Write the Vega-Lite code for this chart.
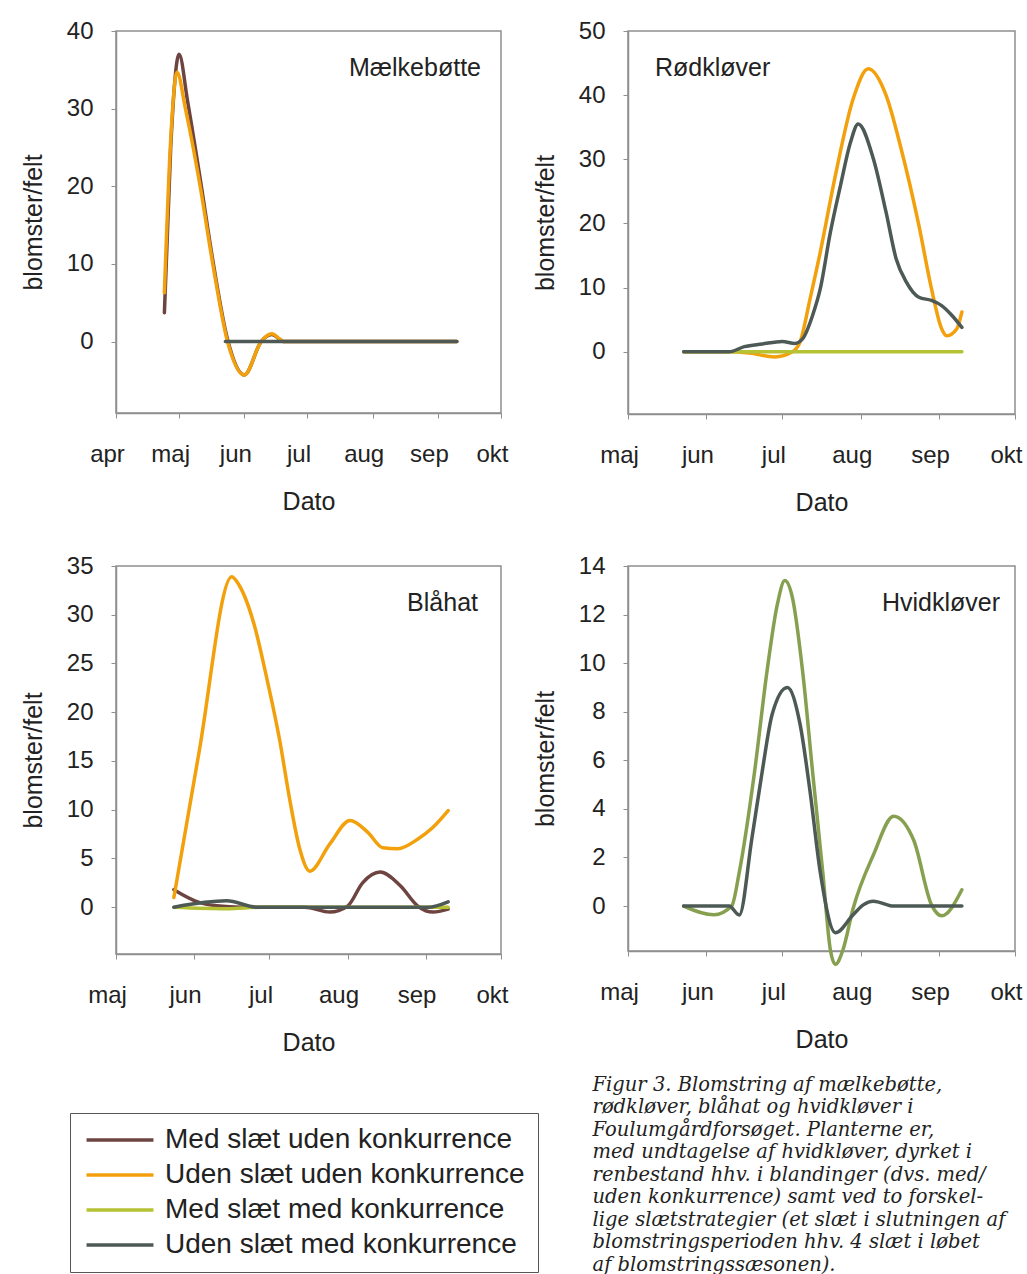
{
  "$schema": "https://vega.github.io/schema/vega-lite/v6.json",
  "background": "white",
  "padding": {"left": 20, "top": 18, "right": 5, "bottom": 5},
  "config": {
    "font": "Liberation Sans",
    "view": {"stroke": "#8f8f8f", "strokeWidth": 1.5},
    "axis": {"grid": false, "labelFontSize": 24, "titleFontSize": 25, "titleFontWeight": "normal", "labelColor": "#222", "titleColor": "#222", "domainColor": "#8f8f8f", "domainWidth": 1.5, "tickColor": "#8f8f8f", "tickSize": 5, "labelFont": "Liberation Sans", "titleFont": "Liberation Sans"},
    "axisX": {"labelPadding": 24, "titlePadding": 23, "labelFlush": false, "labelOverlap": false, "labelOffset": -9},
    "axisY": {"labelPadding": 18, "titlePadding": 20},
    "title": {"fontSize": 25, "fontWeight": "normal", "font": "Liberation Sans", "color": "#222", "orient": "top", "offset": -62, "baseline": "bottom", "frame": "group"},
    "line": {"interpolate": "monotone", "strokeWidth": 3.5, "clip": true, "strokeCap": "round"}
  },
  "datasets": {
    "blomster": [
      {"panel": "Mælkebøtte", "serie": "Med slæt uden konkurrence", "dato": "2009-04-24", "v": 3.7},
      {"panel": "Mælkebøtte", "serie": "Med slæt uden konkurrence", "dato": "2009-04-27", "v": 25},
      {"panel": "Mælkebøtte", "serie": "Med slæt uden konkurrence", "dato": "2009-05-01", "v": 37},
      {"panel": "Mælkebøtte", "serie": "Med slæt uden konkurrence", "dato": "2009-05-05", "v": 31},
      {"panel": "Mælkebøtte", "serie": "Med slæt uden konkurrence", "dato": "2009-05-11", "v": 21},
      {"panel": "Mælkebøtte", "serie": "Med slæt uden konkurrence", "dato": "2009-05-17", "v": 10.5},
      {"panel": "Mælkebøtte", "serie": "Med slæt uden konkurrence", "dato": "2009-05-24", "v": 0.3},
      {"panel": "Mælkebøtte", "serie": "Med slæt uden konkurrence", "dato": "2009-06-01", "v": -4.3},
      {"panel": "Mælkebøtte", "serie": "Med slæt uden konkurrence", "dato": "2009-06-09", "v": 0},
      {"panel": "Mælkebøtte", "serie": "Med slæt uden konkurrence", "dato": "2009-06-14", "v": 0.9},
      {"panel": "Mælkebøtte", "serie": "Med slæt uden konkurrence", "dato": "2009-06-20", "v": 0},
      {"panel": "Mælkebøtte", "serie": "Med slæt uden konkurrence", "dato": "2009-09-10", "v": 0},
      {"panel": "Mælkebøtte", "serie": "Uden slæt uden konkurrence", "dato": "2009-04-24", "v": 6.3},
      {"panel": "Mælkebøtte", "serie": "Uden slæt uden konkurrence", "dato": "2009-04-27", "v": 26},
      {"panel": "Mælkebøtte", "serie": "Uden slæt uden konkurrence", "dato": "2009-04-30", "v": 34.7},
      {"panel": "Mælkebøtte", "serie": "Uden slæt uden konkurrence", "dato": "2009-05-04", "v": 30},
      {"panel": "Mælkebøtte", "serie": "Uden slæt uden konkurrence", "dato": "2009-05-11", "v": 20},
      {"panel": "Mælkebøtte", "serie": "Uden slæt uden konkurrence", "dato": "2009-05-17", "v": 10},
      {"panel": "Mælkebøtte", "serie": "Uden slæt uden konkurrence", "dato": "2009-05-24", "v": 0},
      {"panel": "Mælkebøtte", "serie": "Uden slæt uden konkurrence", "dato": "2009-06-01", "v": -4.3},
      {"panel": "Mælkebøtte", "serie": "Uden slæt uden konkurrence", "dato": "2009-06-09", "v": 0},
      {"panel": "Mælkebøtte", "serie": "Uden slæt uden konkurrence", "dato": "2009-06-14", "v": 1.0},
      {"panel": "Mælkebøtte", "serie": "Uden slæt uden konkurrence", "dato": "2009-06-20", "v": 0},
      {"panel": "Mælkebøtte", "serie": "Uden slæt uden konkurrence", "dato": "2009-09-10", "v": 0},
      {"panel": "Mælkebøtte", "serie": "Uden slæt med konkurrence", "dato": "2009-05-23", "v": 0},
      {"panel": "Mælkebøtte", "serie": "Uden slæt med konkurrence", "dato": "2009-09-10", "v": 0},

      {"panel": "Rødkløver", "serie": "Uden slæt uden konkurrence", "dato": "2009-05-23", "v": 0},
      {"panel": "Rødkløver", "serie": "Uden slæt uden konkurrence", "dato": "2009-06-10", "v": 0},
      {"panel": "Rødkløver", "serie": "Uden slæt uden konkurrence", "dato": "2009-06-18", "v": -0.2},
      {"panel": "Rødkløver", "serie": "Uden slæt uden konkurrence", "dato": "2009-06-28", "v": -0.8},
      {"panel": "Rødkløver", "serie": "Uden slæt uden konkurrence", "dato": "2009-07-05", "v": 0},
      {"panel": "Rødkløver", "serie": "Uden slæt uden konkurrence", "dato": "2009-07-08", "v": 1.5},
      {"panel": "Rødkløver", "serie": "Uden slæt uden konkurrence", "dato": "2009-07-12", "v": 8.3},
      {"panel": "Rødkløver", "serie": "Uden slæt uden konkurrence", "dato": "2009-07-16", "v": 15.5},
      {"panel": "Rødkløver", "serie": "Uden slæt uden konkurrence", "dato": "2009-07-22", "v": 27.5},
      {"panel": "Rødkløver", "serie": "Uden slæt uden konkurrence", "dato": "2009-07-29", "v": 39.4},
      {"panel": "Rødkløver", "serie": "Uden slæt uden konkurrence", "dato": "2009-08-04", "v": 44.1},
      {"panel": "Rødkløver", "serie": "Uden slæt uden konkurrence", "dato": "2009-08-11", "v": 40.0},
      {"panel": "Rødkløver", "serie": "Uden slæt uden konkurrence", "dato": "2009-08-17", "v": 31.6},
      {"panel": "Rødkløver", "serie": "Uden slæt uden konkurrence", "dato": "2009-08-24", "v": 19.7},
      {"panel": "Rødkløver", "serie": "Uden slæt uden konkurrence", "dato": "2009-08-29", "v": 9.8},
      {"panel": "Rødkløver", "serie": "Uden slæt uden konkurrence", "dato": "2009-09-02", "v": 3.6},
      {"panel": "Rødkløver", "serie": "Uden slæt uden konkurrence", "dato": "2009-09-04", "v": 2.5},
      {"panel": "Rødkløver", "serie": "Uden slæt uden konkurrence", "dato": "2009-09-08", "v": 3.6},
      {"panel": "Rødkløver", "serie": "Uden slæt uden konkurrence", "dato": "2009-09-10", "v": 6.2},
      {"panel": "Rødkløver", "serie": "Med slæt med konkurrence", "dato": "2009-05-23", "v": 0},
      {"panel": "Rødkløver", "serie": "Med slæt med konkurrence", "dato": "2009-09-10", "v": 0},
      {"panel": "Rødkløver", "serie": "Uden slæt med konkurrence", "dato": "2009-05-23", "v": 0},
      {"panel": "Rødkløver", "serie": "Uden slæt med konkurrence", "dato": "2009-06-10", "v": 0},
      {"panel": "Rødkløver", "serie": "Uden slæt med konkurrence", "dato": "2009-06-16", "v": 0.8},
      {"panel": "Rødkløver", "serie": "Uden slæt med konkurrence", "dato": "2009-06-23", "v": 1.2},
      {"panel": "Rødkløver", "serie": "Uden slæt med konkurrence", "dato": "2009-07-01", "v": 1.6},
      {"panel": "Rødkløver", "serie": "Uden slæt med konkurrence", "dato": "2009-07-06", "v": 1.3},
      {"panel": "Rødkløver", "serie": "Uden slæt med konkurrence", "dato": "2009-07-09", "v": 2.0},
      {"panel": "Rødkløver", "serie": "Uden slæt med konkurrence", "dato": "2009-07-13", "v": 5.7},
      {"panel": "Rødkløver", "serie": "Uden slæt med konkurrence", "dato": "2009-07-16", "v": 9.8},
      {"panel": "Rødkløver", "serie": "Uden slæt med konkurrence", "dato": "2009-07-20", "v": 18.6},
      {"panel": "Rødkløver", "serie": "Uden slæt med konkurrence", "dato": "2009-07-24", "v": 25.9},
      {"panel": "Rødkløver", "serie": "Uden slæt med konkurrence", "dato": "2009-07-28", "v": 32.7},
      {"panel": "Rødkløver", "serie": "Uden slæt med konkurrence", "dato": "2009-07-31", "v": 35.5},
      {"panel": "Rødkløver", "serie": "Uden slæt med konkurrence", "dato": "2009-08-06", "v": 30.1},
      {"panel": "Rødkløver", "serie": "Uden slæt med konkurrence", "dato": "2009-08-11", "v": 21.8},
      {"panel": "Rødkløver", "serie": "Uden slæt med konkurrence", "dato": "2009-08-15", "v": 14.5},
      {"panel": "Rødkløver", "serie": "Uden slæt med konkurrence", "dato": "2009-08-19", "v": 10.9},
      {"panel": "Rødkløver", "serie": "Uden slæt med konkurrence", "dato": "2009-08-24", "v": 8.5},
      {"panel": "Rødkløver", "serie": "Uden slæt med konkurrence", "dato": "2009-08-29", "v": 8.0},
      {"panel": "Rødkløver", "serie": "Uden slæt med konkurrence", "dato": "2009-09-02", "v": 7.2},
      {"panel": "Rødkløver", "serie": "Uden slæt med konkurrence", "dato": "2009-09-06", "v": 5.7},
      {"panel": "Rødkløver", "serie": "Uden slæt med konkurrence", "dato": "2009-09-10", "v": 3.8},

      {"panel": "Blåhat", "serie": "Med slæt uden konkurrence", "dato": "2009-05-24", "v": 1.8},
      {"panel": "Blåhat", "serie": "Med slæt uden konkurrence", "dato": "2009-06-03", "v": 0.5},
      {"panel": "Blåhat", "serie": "Med slæt uden konkurrence", "dato": "2009-06-10", "v": 0.15},
      {"panel": "Blåhat", "serie": "Med slæt uden konkurrence", "dato": "2009-06-20", "v": 0},
      {"panel": "Blåhat", "serie": "Med slæt uden konkurrence", "dato": "2009-07-15", "v": 0},
      {"panel": "Blåhat", "serie": "Med slæt uden konkurrence", "dato": "2009-07-25", "v": -0.5},
      {"panel": "Blåhat", "serie": "Med slæt uden konkurrence", "dato": "2009-08-01", "v": 0.1},
      {"panel": "Blåhat", "serie": "Med slæt uden konkurrence", "dato": "2009-08-07", "v": 2.5},
      {"panel": "Blåhat", "serie": "Med slæt uden konkurrence", "dato": "2009-08-14", "v": 3.6},
      {"panel": "Blåhat", "serie": "Med slæt uden konkurrence", "dato": "2009-08-22", "v": 2.2},
      {"panel": "Blåhat", "serie": "Med slæt uden konkurrence", "dato": "2009-08-29", "v": 0.1},
      {"panel": "Blåhat", "serie": "Med slæt uden konkurrence", "dato": "2009-09-04", "v": -0.5},
      {"panel": "Blåhat", "serie": "Med slæt uden konkurrence", "dato": "2009-09-10", "v": -0.2},
      {"panel": "Blåhat", "serie": "Uden slæt uden konkurrence", "dato": "2009-05-24", "v": 1.0},
      {"panel": "Blåhat", "serie": "Uden slæt uden konkurrence", "dato": "2009-06-03", "v": 15.9},
      {"panel": "Blåhat", "serie": "Uden slæt uden konkurrence", "dato": "2009-06-16", "v": 33.9},
      {"panel": "Blåhat", "serie": "Uden slæt uden konkurrence", "dato": "2009-06-19", "v": 33.0},
      {"panel": "Blåhat", "serie": "Uden slæt uden konkurrence", "dato": "2009-06-25", "v": 28.9},
      {"panel": "Blåhat", "serie": "Uden slæt uden konkurrence", "dato": "2009-06-30", "v": 23.4},
      {"panel": "Blåhat", "serie": "Uden slæt uden konkurrence", "dato": "2009-07-05", "v": 17.2},
      {"panel": "Blåhat", "serie": "Uden slæt uden konkurrence", "dato": "2009-07-09", "v": 11.1},
      {"panel": "Blåhat", "serie": "Uden slæt uden konkurrence", "dato": "2009-07-13", "v": 6.0},
      {"panel": "Blåhat", "serie": "Uden slæt uden konkurrence", "dato": "2009-07-17", "v": 3.7},
      {"panel": "Blåhat", "serie": "Uden slæt uden konkurrence", "dato": "2009-07-25", "v": 6.5},
      {"panel": "Blåhat", "serie": "Uden slæt uden konkurrence", "dato": "2009-08-02", "v": 8.9},
      {"panel": "Blåhat", "serie": "Uden slæt uden konkurrence", "dato": "2009-08-09", "v": 7.7},
      {"panel": "Blåhat", "serie": "Uden slæt uden konkurrence", "dato": "2009-08-15", "v": 6.1},
      {"panel": "Blåhat", "serie": "Uden slæt uden konkurrence", "dato": "2009-08-21", "v": 6.0},
      {"panel": "Blåhat", "serie": "Uden slæt uden konkurrence", "dato": "2009-08-29", "v": 7.0},
      {"panel": "Blåhat", "serie": "Uden slæt uden konkurrence", "dato": "2009-09-04", "v": 8.2},
      {"panel": "Blåhat", "serie": "Uden slæt uden konkurrence", "dato": "2009-09-10", "v": 9.9},
      {"panel": "Blåhat", "serie": "Med slæt med konkurrence", "dato": "2009-05-24", "v": 0},
      {"panel": "Blåhat", "serie": "Med slæt med konkurrence", "dato": "2009-06-14", "v": -0.15},
      {"panel": "Blåhat", "serie": "Med slæt med konkurrence", "dato": "2009-06-28", "v": 0},
      {"panel": "Blåhat", "serie": "Med slæt med konkurrence", "dato": "2009-09-10", "v": 0},
      {"panel": "Blåhat", "serie": "Uden slæt med konkurrence", "dato": "2009-05-24", "v": 0},
      {"panel": "Blåhat", "serie": "Uden slæt med konkurrence", "dato": "2009-06-14", "v": 0.65},
      {"panel": "Blåhat", "serie": "Uden slæt med konkurrence", "dato": "2009-06-26", "v": 0},
      {"panel": "Blåhat", "serie": "Uden slæt med konkurrence", "dato": "2009-09-02", "v": 0},
      {"panel": "Blåhat", "serie": "Uden slæt med konkurrence", "dato": "2009-09-10", "v": 0.55},

      {"panel": "Hvidkløver", "serie": "Med slæt med konkurrence", "dato": "2009-05-23", "v": 0},
      {"panel": "Hvidkløver", "serie": "Med slæt med konkurrence", "dato": "2009-06-04", "v": -0.36},
      {"panel": "Hvidkløver", "serie": "Med slæt med konkurrence", "dato": "2009-06-11", "v": 0},
      {"panel": "Hvidkløver", "serie": "Med slæt med konkurrence", "dato": "2009-06-14", "v": 1.4},
      {"panel": "Hvidkløver", "serie": "Med slæt med konkurrence", "dato": "2009-06-20", "v": 5.5},
      {"panel": "Hvidkløver", "serie": "Med slæt med konkurrence", "dato": "2009-06-25", "v": 9.7},
      {"panel": "Hvidkløver", "serie": "Med slæt med konkurrence", "dato": "2009-06-29", "v": 12.4},
      {"panel": "Hvidkløver", "serie": "Med slæt med konkurrence", "dato": "2009-07-02", "v": 13.4},
      {"panel": "Hvidkløver", "serie": "Med slæt med konkurrence", "dato": "2009-07-05", "v": 12.7},
      {"panel": "Hvidkløver", "serie": "Med slæt med konkurrence", "dato": "2009-07-09", "v": 9.7},
      {"panel": "Hvidkløver", "serie": "Med slæt med konkurrence", "dato": "2009-07-13", "v": 5.5},
      {"panel": "Hvidkløver", "serie": "Med slæt med konkurrence", "dato": "2009-07-17", "v": 1.4},
      {"panel": "Hvidkløver", "serie": "Med slæt med konkurrence", "dato": "2009-07-20", "v": -1.8},
      {"panel": "Hvidkløver", "serie": "Med slæt med konkurrence", "dato": "2009-07-22", "v": -2.4},
      {"panel": "Hvidkløver", "serie": "Med slæt med konkurrence", "dato": "2009-07-25", "v": -1.8},
      {"panel": "Hvidkløver", "serie": "Med slæt med konkurrence", "dato": "2009-07-29", "v": -0.1},
      {"panel": "Hvidkløver", "serie": "Med slæt med konkurrence", "dato": "2009-08-06", "v": 2.1},
      {"panel": "Hvidkløver", "serie": "Med slæt med konkurrence", "dato": "2009-08-14", "v": 3.7},
      {"panel": "Hvidkløver", "serie": "Med slæt med konkurrence", "dato": "2009-08-22", "v": 2.7},
      {"panel": "Hvidkløver", "serie": "Med slæt med konkurrence", "dato": "2009-08-29", "v": 0.05},
      {"panel": "Hvidkløver", "serie": "Med slæt med konkurrence", "dato": "2009-09-02", "v": -0.4},
      {"panel": "Hvidkløver", "serie": "Med slæt med konkurrence", "dato": "2009-09-10", "v": 0.67},
      {"panel": "Hvidkløver", "serie": "Uden slæt med konkurrence", "dato": "2009-05-23", "v": 0},
      {"panel": "Hvidkløver", "serie": "Uden slæt med konkurrence", "dato": "2009-06-10", "v": 0},
      {"panel": "Hvidkløver", "serie": "Uden slæt med konkurrence", "dato": "2009-06-14", "v": -0.37},
      {"panel": "Hvidkløver", "serie": "Uden slæt med konkurrence", "dato": "2009-06-19", "v": 2.8},
      {"panel": "Hvidkløver", "serie": "Uden slæt med konkurrence", "dato": "2009-06-23", "v": 5.5},
      {"panel": "Hvidkløver", "serie": "Uden slæt med konkurrence", "dato": "2009-06-27", "v": 7.9},
      {"panel": "Hvidkløver", "serie": "Uden slæt med konkurrence", "dato": "2009-07-03", "v": 9.0},
      {"panel": "Hvidkløver", "serie": "Uden slæt med konkurrence", "dato": "2009-07-08", "v": 7.5},
      {"panel": "Hvidkløver", "serie": "Uden slæt med konkurrence", "dato": "2009-07-12", "v": 4.7},
      {"panel": "Hvidkløver", "serie": "Uden slæt med konkurrence", "dato": "2009-07-16", "v": 1.4},
      {"panel": "Hvidkløver", "serie": "Uden slæt med konkurrence", "dato": "2009-07-22", "v": -1.1},
      {"panel": "Hvidkløver", "serie": "Uden slæt med konkurrence", "dato": "2009-07-29", "v": -0.36},
      {"panel": "Hvidkløver", "serie": "Uden slæt med konkurrence", "dato": "2009-08-02", "v": 0.05},
      {"panel": "Hvidkløver", "serie": "Uden slæt med konkurrence", "dato": "2009-08-06", "v": 0.2},
      {"panel": "Hvidkløver", "serie": "Uden slæt med konkurrence", "dato": "2009-08-14", "v": 0},
      {"panel": "Hvidkløver", "serie": "Uden slæt med konkurrence", "dato": "2009-09-10", "v": 0}
    ]
  },
  "spacing": 37,
  "vconcat": [
    {
      "bounds": "flush",
      "spacing": 127,
      "hconcat": [
        {
          "width": 385, "height": 382,
          "title": {"text": "Mælkebøtte", "anchor": "end", "dx": -20},
          "data": {"name": "blomster"},
          "transform": [{"filter": "datum.panel === 'Mælkebøtte'"}],
          "mark": {"type": "line"},
          "encoding": {
            "x": {"field": "dato", "type": "temporal", "scale": {"type": "utc", "domain": [{"year": 2009, "month": 4, "date": 1, "utc": true}, {"year": 2009, "month": 10, "date": 1, "utc": true}]},
              "axis": {"title": "Dato", "values": [{"year": 2009, "month": 4, "date": 1, "utc": true}, {"year": 2009, "month": 5, "date": 1, "utc": true}, {"year": 2009, "month": 6, "date": 1, "utc": true}, {"year": 2009, "month": 7, "date": 1, "utc": true}, {"year": 2009, "month": 8, "date": 1, "utc": true}, {"year": 2009, "month": 9, "date": 1, "utc": true}, {"year": 2009, "month": 10, "date": 1, "utc": true}],
                "labelExpr": "['jan','feb','mar','apr','maj','jun','jul','aug','sep','okt','nov','dec'][utcmonth(datum.value)]"}},
            "y": {"field": "v", "type": "quantitative", "scale": {"domain": [-9.2, 40], "nice": false, "zero": false}, "axis": {"title": "blomster/felt", "values": [0, 10, 20, 30, 40]}},
            "color": {"field": "serie", "type": "nominal",
              "scale": {"domain": ["Med slæt uden konkurrence", "Uden slæt uden konkurrence", "Med slæt med konkurrence", "Uden slæt med konkurrence"], "range": ["#6e4440", "#f2a00c", "#b4c234", "#4c5955"]},
              "legend": {"orient": "none", "legendX": -46, "legendY": 1082, "title": null, "strokeColor": "#555", "padding": 13, "symbolType": "M-4,0H4", "symbolSize": 280, "symbolStrokeWidth": 3.5, "symbolOffset": 23, "labelOffset": 31, "labelFontSize": 28, "labelFont": "Liberation Sans", "labelColor": "#222", "rowPadding": 7, "labelLimit": 600}}
          }
        },
        {
          "width": 387, "height": 383,
          "title": {"text": "Rødkløver", "anchor": "start", "dx": 27},
          "data": {"name": "blomster"},
          "transform": [{"filter": "datum.panel === 'Rødkløver'"}],
          "mark": {"type": "line"},
          "encoding": {
            "x": {"field": "dato", "type": "temporal", "scale": {"type": "utc", "domain": [{"year": 2009, "month": 5, "date": 1, "utc": true}, {"year": 2009, "month": 10, "date": 1, "utc": true}]},
              "axis": {"title": "Dato", "values": [{"year": 2009, "month": 5, "date": 1, "utc": true}, {"year": 2009, "month": 6, "date": 1, "utc": true}, {"year": 2009, "month": 7, "date": 1, "utc": true}, {"year": 2009, "month": 8, "date": 1, "utc": true}, {"year": 2009, "month": 9, "date": 1, "utc": true}, {"year": 2009, "month": 10, "date": 1, "utc": true}],
                "labelExpr": "['jan','feb','mar','apr','maj','jun','jul','aug','sep','okt','nov','dec'][utcmonth(datum.value)]"}},
            "y": {"field": "v", "type": "quantitative", "scale": {"domain": [-9.7, 50], "nice": false, "zero": false}, "axis": {"title": "blomster/felt", "values": [0, 10, 20, 30, 40, 50]}},
            "color": {"field": "serie", "type": "nominal"}
          }
        }
      ]
    },
    {
      "bounds": "flush",
      "spacing": 127,
      "title": {
        "text": ["Figur 3. Blomstring af mælkebøtte,", "rødkløver, blåhat og hvidkløver i", "Foulumgårdforsøget. Planterne er,", "med undtagelse af hvidkløver, dyrket i", "renbestand hhv. i blandinger (dvs. med/", "uden konkurrence) samt ved to forskel-", "lige slætstrategier (et slæt i slutningen af", "blomstringsperioden hhv. 4 slæt i løbet", "af blomstringssæsonen)."],
        "orient": "bottom", "anchor": "start", "align": "left", "frame": "bounds", "dx": 572, "offset": 20, "baseline": "top",
        "font": "DejaVu Serif", "fontStyle": "italic", "fontSize": 19.5, "lineHeight": 22.5, "color": "#222"
      },
      "hconcat": [
        {
          "width": 385, "height": 388,
          "title": {"text": "Blåhat", "anchor": "end", "dx": -23},
          "data": {"name": "blomster"},
          "transform": [{"filter": "datum.panel === 'Blåhat'"}],
          "mark": {"type": "line"},
          "encoding": {
            "x": {"field": "dato", "type": "temporal", "scale": {"type": "utc", "domain": [{"year": 2009, "month": 5, "date": 1, "utc": true}, {"year": 2009, "month": 10, "date": 1, "utc": true}]},
              "axis": {"title": "Dato", "values": [{"year": 2009, "month": 5, "date": 1, "utc": true}, {"year": 2009, "month": 6, "date": 1, "utc": true}, {"year": 2009, "month": 7, "date": 1, "utc": true}, {"year": 2009, "month": 8, "date": 1, "utc": true}, {"year": 2009, "month": 9, "date": 1, "utc": true}, {"year": 2009, "month": 10, "date": 1, "utc": true}],
                "labelExpr": "['jan','feb','mar','apr','maj','jun','jul','aug','sep','okt','nov','dec'][utcmonth(datum.value)]"}},
            "y": {"field": "v", "type": "quantitative", "scale": {"domain": [-4.8, 35], "nice": false, "zero": false}, "axis": {"title": "blomster/felt", "values": [0, 5, 10, 15, 20, 25, 30, 35]}},
            "color": {"field": "serie", "type": "nominal"}
          }
        },
        {
          "width": 387, "height": 385,
          "title": {"text": "Hvidkløver", "anchor": "end", "dx": -15},
          "data": {"name": "blomster"},
          "transform": [{"filter": "datum.panel === 'Hvidkløver'"}],
          "encoding": {
            "x": {"field": "dato", "type": "temporal", "scale": {"type": "utc", "domain": [{"year": 2009, "month": 5, "date": 1, "utc": true}, {"year": 2009, "month": 10, "date": 1, "utc": true}]},
              "axis": {"title": "Dato", "values": [{"year": 2009, "month": 5, "date": 1, "utc": true}, {"year": 2009, "month": 6, "date": 1, "utc": true}, {"year": 2009, "month": 7, "date": 1, "utc": true}, {"year": 2009, "month": 8, "date": 1, "utc": true}, {"year": 2009, "month": 9, "date": 1, "utc": true}, {"year": 2009, "month": 10, "date": 1, "utc": true}],
                "labelExpr": "['jan','feb','mar','apr','maj','jun','jul','aug','sep','okt','nov','dec'][utcmonth(datum.value)]"}},
            "y": {"field": "v", "type": "quantitative", "scale": {"domain": [-1.85, 14], "nice": false, "zero": false}, "axis": {"title": "blomster/felt", "values": [0, 2, 4, 6, 8, 10, 12, 14]}}
          },
          "layer": [
            {
              "transform": [{"filter": "datum.serie === 'Med slæt med konkurrence'"}],
              "mark": {"type": "line", "color": "#86a04f"}
            },
            {
              "transform": [{"filter": "datum.serie === 'Uden slæt med konkurrence'"}],
              "mark": {"type": "line"},
              "encoding": {"color": {"field": "serie", "type": "nominal"}}
            }
          ]
        }
      ]
    }
  ]
}
